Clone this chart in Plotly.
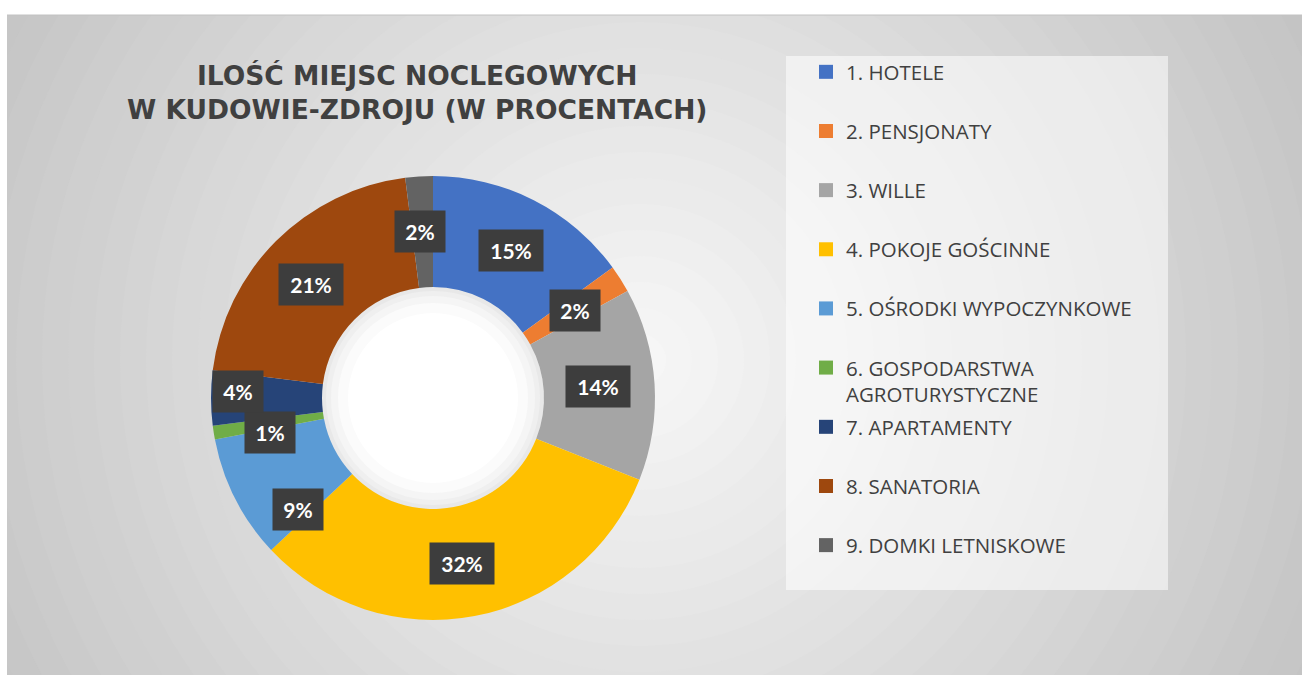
import math
import plotly.graph_objects as go

# ---------------- data ----------------
categories = ["1. HOTELE", "2. PENSJONATY", "3. WILLE", "4. POKOJE GOŚCINNE",
              "5. OŚRODKI WYPOCZYNKOWE", "6. GOSPODARSTWA AGROTURYSTYCZNE",
              "7. APARTAMENTY", "8. SANATORIA", "9. DOMKI LETNISKOWE"]
legend_labels = ["1. HOTELE", "2. PENSJONATY", "3. WILLE", "4. POKOJE GOŚCINNE",
                 "5. OŚRODKI WYPOCZYNKOWE", "6. GOSPODARSTWA<br>AGROTURYSTYCZNE",
                 "7. APARTAMENTY", "8. SANATORIA", "9. DOMKI LETNISKOWE"]
values = [15, 2, 14, 32, 9, 1, 4, 21, 2]
colors = ["#4472C4", "#ED7D31", "#A5A5A5", "#FFC000", "#5B9BD5",
          "#70AD47", "#264478", "#9E480E", "#636363"]
title_text = "ILOŚĆ MIEJSC NOCLEGOWYCH<br>W KUDOWIE-ZDROJU (W PROCENTACH)"

# ---------------- geometry / style ----------------
W, H = 1302, 675
CX, CY, R = 433, 398, 222          # donut centre / outer radius (px)
HOLE = 0.5
R_MID = R * (1 + HOLE) / 2
# small nudges (px) applied to data labels to avoid overlaps, like the original
label_nudge = [(2, 1), (1, 2), (-1, -1), (-2, 2), (13, 36), (1, 8), (-29, -7), (-4, 4), (-3, 0)]

FONT = "Open Sans"
TXT = "#404040"


def px(x):
    return x / W


def py(y):
    return 1 - y / H


fig = go.Figure()

fig.add_trace(go.Pie(
    labels=categories, values=values, sort=False, direction="clockwise", rotation=0,
    hole=HOLE, marker=dict(colors=colors, line=dict(width=0)),
    textinfo="none", hoverinfo="label+percent", showlegend=False,
    domain=dict(x=[px(CX - R), px(CX + R)], y=[py(CY + R), py(CY - R)]),
))

# legend entries (two legend blocks to reproduce the original item spacing)
for i, (lab, col) in enumerate(zip(legend_labels, colors)):
    fig.add_trace(go.Scatter(
        x=[None], y=[None], mode="markers", name=lab,
        marker=dict(symbol="square", size=14, color=col),
        legendgroup=f"g{i}", showlegend=True,
        legend="legend" if i < 6 else "legend2",
    ))

# data labels
total = sum(values)
annotations = []
cum = 0
for i, v in enumerate(values):
    mid = (cum + v / 2) / total * 2 * math.pi
    cum += v
    lx = CX + R_MID * math.sin(mid) + label_nudge[i][0]
    ly = CY - R_MID * math.cos(mid) + label_nudge[i][1]
    txt = f"{round(v / total * 100)}%"
    annotations.append(dict(
        x=px(lx), y=py(ly), xref="paper", yref="paper", text=f"<b>{txt}</b>",
        showarrow=False, font=dict(family="Lato", size=21, color="white"),
        bgcolor="#3d3d3d", borderpad=8, width=14 * len(txt) + 6, height=25,
        xanchor="center", yanchor="middle",
    ))

annotations.append(dict(
    x=px(417), y=py(92), xref="paper", yref="paper", text=f"<b>{title_text}</b>",
    showarrow=False, font=dict(family="DejaVu Sans", size=26.5, color=TXT),
    xanchor="center", yanchor="middle", align="center",
))

# background: white page, grey radial-like gradient panel
shapes = [dict(type="rect", xref="paper", yref="paper", x0=px(7), x1=1, y0=0, y1=py(15),
               fillcolor="#c4c4c4", line=dict(width=0), layer="below")]
GX, GY, GR = 640, 360, 780
N = 30
for k in range(N):
    r = GR * (1 - k / N)
    c = int(round(248 - 54 * (r / GR)))
    shapes.append(dict(type="circle", xref="paper", yref="paper",
                       x0=px(GX - r), x1=px(GX + r), y0=py(GY + r), y1=py(GY - r),
                       fillcolor=f"rgb({c},{c},{c})", line=dict(width=0), layer="below"))
# mask outside the panel
shapes.append(dict(type="rect", xref="paper", yref="paper", x0=0, x1=1, y0=py(15), y1=1,
                   fillcolor="white", line=dict(width=0), layer="below"))
shapes.append(dict(type="rect", xref="paper", yref="paper", x0=0, x1=px(7), y0=0, y1=1,
                   fillcolor="white", line=dict(width=0), layer="below"))
shapes.append(dict(type="line", xref="paper", yref="paper", x0=px(7), x1=1, y0=py(15), y1=py(15),
                   line=dict(color="#c2c2c2", width=1), layer="below"))
# hole lighting
for rr, cc in [(111, "#e8e8e8"), (107, "#efefef"), (102, "#f5f5f5"), (95, "#fbfbfb"), (85, "#ffffff")]:
    shapes.append(dict(type="circle", xref="paper", yref="paper",
                       x0=px(CX - rr), x1=px(CX + rr), y0=py(CY + rr), y1=py(CY - rr),
                       fillcolor=cc, line=dict(width=0), layer="below"))
# legend panel
shapes.append(dict(type="rect", xref="paper", yref="paper", x0=px(786), x1=px(1168),
                   y0=py(590), y1=py(56), fillcolor="rgba(255,255,255,0.55)",
                   line=dict(width=0), layer="below"))

legend_common = dict(
    bgcolor="rgba(0,0,0,0)", borderwidth=0, font=dict(family=FONT, size=20.5, color=TXT),
    tracegroupgap=29.5, valign="top", xanchor="left", yanchor="top", itemsizing="trace",
)

fig.update_layout(
    width=W, height=H, margin=dict(l=0, r=0, t=0, b=0),
    paper_bgcolor="white", plot_bgcolor="rgba(0,0,0,0)",
    xaxis=dict(visible=False), yaxis=dict(visible=False),
    shapes=shapes, annotations=annotations,
    legend=dict(x=px(806), y=py(52), **legend_common),
    legend2=dict(x=px(806), y=py(407), **legend_common),
    showlegend=True,
)

fig.write_html("out.html", config={"displayModeBar": False},
               post_script="document.body.style.margin='0';")
